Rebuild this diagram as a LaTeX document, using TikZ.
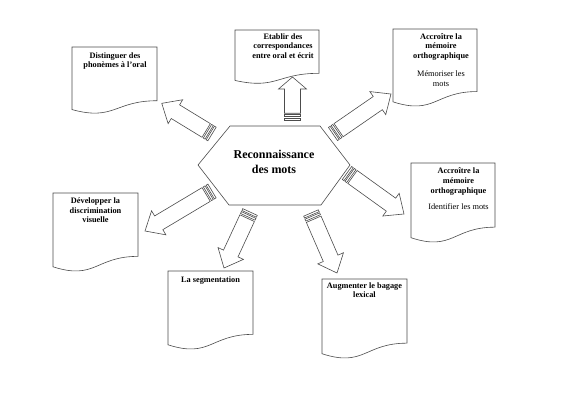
\documentclass[tikz,border=0pt]{standalone}
\usepackage{fontspec}
\setmainfont{Liberation Serif}
\usetikzlibrary{calc}
\tikzset{
  shapeline/.style={draw=black!70, line width=0.6pt, line join=miter, fill=white},
  docnode/.style={rectangle, inner sep=0pt, outer sep=0pt, draw=none},
  boxtext/.style={inner sep=0pt, align=center, font=\fontsize{8.3}{9.6}\selectfont\bfseries, text=black},
  hextext/.style={inner sep=0pt, align=center, font=\fontsize{12}{14.3}\selectfont\bfseries, text=black},
}
% document box: name, x0, y0, w, h, text dx, text dy, text
\newcommand\docbox[8]{%
  \node[docnode, anchor=north west, minimum width=#4pt, minimum height=#5pt] (#1) at (#2,#3) {};
  \path[shapeline] (#1.north west) -- (#1.north east)
    -- ($(#1.north east)!0.802!(#1.south east)$)
    .. controls ($(#1.north)!0.802!(#1.south)$) and ($(#1.north)!1.107!(#1.south)$)
    .. ($(#1.north west)!0.934!(#1.south west)$) -- cycle;
  \node[boxtext, anchor=north] (#1t) at ($(#1.north)+(#6,#7)$) {#8};
}
% striped block arrow: tail, tip, head length
\newcommand\stripearrow[3]{%
  \pgfmathanglebetweenpoints{\pgfpointanchor{#1}{center}}{\pgfpointanchor{#2}{center}}%
  \let\arrang\pgfmathresult
  \pgfpointdiff{\pgfpointanchor{#1}{center}}{\pgfpointanchor{#2}{center}}%
  \pgfgetlastxy{\arrdx}{\arrdy}%
  \pgfmathsetmacro\arrlen{veclen(\arrdx,\arrdy)}%
  \pgfmathsetmacro\arrhb{\arrlen-#3}%
  \begin{scope}[shift={(#1)}, rotate=\arrang, x=1pt, y=1pt]
    \path[shapeline] (0,-8) rectangle (2,8);
    \path[shapeline] (3.3,-8) rectangle (5.3,8);
    \path[shapeline] (6.8,-8) -- (\arrhb,-8) -- (\arrhb,-14) -- (\arrlen,0)
      -- (\arrhb,14) -- (\arrhb,8) -- (6.8,8) -- cycle;
  \end{scope}
}
\begin{document}
\begin{tikzpicture}[x=1pt, y=-1pt]
\useasboundingbox (0,0) rectangle (566,400);

% central hexagon
\coordinate (h1) at (198,165);
\coordinate (h2) at (230,126);
\coordinate (h3) at (320,126);
\coordinate (h4) at (350,165);
\coordinate (h5) at (321,205);
\coordinate (h6) at (229,205);
\path[shapeline] (h1) -- (h2) -- (h3) -- (h4) -- (h5) -- (h6) -- cycle;
\node[hextext] (hex) at (274,162) {Reconnaissance\\des mots};

% document boxes
\docbox{b1}{72}{47}{85}{67}{0.5}{5.1}{Distinguer des\\phonèmes à l’oral}
\docbox{b2}{235}{30}{84}{54}{6}{3.1}{Etablir des\\correspondances\\entre oral et écrit}
\docbox{b3}{393}{29}{84}{78}{6}{4.1}{Accroître la\\mémoire\\orthographique\\[8.5pt]{\mdseries Mémoriser les}\\{\mdseries mots}}
\docbox{b4}{411}{163}{84}{80}{5.5}{4.8}{Accroître la\\mémoire\\orthographique\\[7.2pt]{\mdseries Identifier les mots}}
\docbox{b5}{53}{193}{85}{79}{0}{4.8}{Développer la\\discrimination\\visuelle}
\docbox{b6}{168}{271}{85}{79}{0}{5.1}{La segmentation}
\docbox{b7}{322}{279}{85}{80}{0}{3.1}{Augmenter le bagage\\lexical}

% arrows
\coordinate (aT) at (292.5,120); \coordinate (aH) at (292.5,77);
\coordinate (bT) at (212,134);   \coordinate (bH) at (161.7,103.3);
\coordinate (cT) at (333,134);   \coordinate (cH) at (391,94);
\coordinate (dT) at (347,173);   \coordinate (dH) at (404,214);
\coordinate (eT) at (212,191);   \coordinate (eH) at (145,231);
\coordinate (fT) at (250,212);   \coordinate (fH) at (224,268);
\coordinate (gT) at (311,213);   \coordinate (gH) at (337,273);
\stripearrow{aT}{aH}{12}
\stripearrow{bT}{bH}{16}
\stripearrow{cT}{cH}{16}
\stripearrow{dT}{dH}{16}
\stripearrow{eT}{eH}{16}
\stripearrow{fT}{fH}{16}
\stripearrow{gT}{gH}{16}
\end{tikzpicture}
\end{document}
